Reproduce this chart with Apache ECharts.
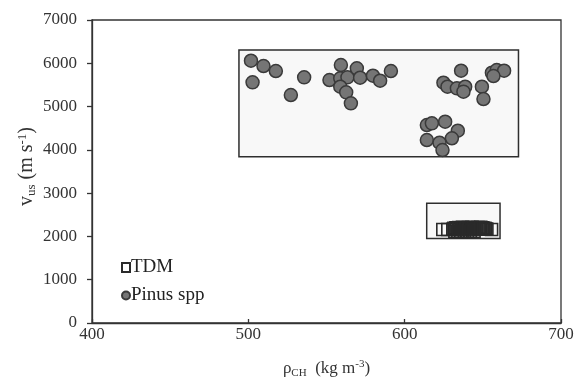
<!DOCTYPE html>
<html>
<head>
<meta charset="utf-8">
<script src="https://cdn.jsdelivr.net/npm/echarts@6/dist/echarts.min.js"></script>
<style>
  html, body { margin: 0; padding: 0; background: #fff; }
  #chart { width: 582px; height: 379px; }
</style>
</head>
<body>
<div id="chart"></div>
<script>
// Pinus spp 样本 (rho, v)
const pinusX = [501.7, 509.7, 517.6, 502.7, 535.7, 527.2, 551.9, 559.2, 558.8, 563.4, 569.4, 571.5, 558.8, 562.6, 565.6, 579.7, 584.3, 591.2,
  636.1, 624.8, 627.4, 633.4, 638.7, 637.6, 649.4, 650.4, 655.8, 658.9, 663.6, 656.8,
  614.2, 617.4, 625.9, 634.0, 630.2, 614.2, 622.3, 624.2];
const pinusY = [6059, 5937, 5821, 5560, 5676, 5267, 5613, 5960, 5652, 5676, 5883, 5667, 5459, 5329, 5075, 5713, 5597, 5821,
  5828, 5551, 5459, 5421, 5459, 5344, 5459, 5174, 5782, 5844, 5828, 5706,
  4574, 4613, 4650, 4442, 4267, 4227, 4165, 3996];

// TDM 样本
const tdmX = [624.4, 627.6, 630.8, 631.5, 632.1, 632.8, 633.4, 634.0, 634.6, 635.3, 635.9, 636.4, 637.0, 637.7, 638.2, 638.9,
  639.5, 640.1, 640.8, 641.3, 642.0, 642.6, 643.1, 643.8, 644.4, 645.0, 645.7, 646.2, 646.9, 647.5, 648.1, 648.7,
  649.4, 650.0, 650.6, 651.3, 651.9, 652.6, 655.6];
const tdmY = [2160, 2160, 2165, 2190, 2120, 2200, 2175, 2110, 2205, 2180, 2115, 2195, 2210, 2170, 2120, 2200,
  2185, 2115, 2205, 2175, 2110, 2195, 2210, 2180, 2120, 2200, 2170, 2190, 2205, 2175, 2195, 2210,
  2180, 2200, 2170, 2190, 2175, 2165, 2160];

// 分组框 [xmin, ymin, xmax, ymax]
const pinusBox = [494.0, 3842, 672.8, 6307];
const tdmBox = [614.1, 1950, 661.0, 2765];

const xTicks = [400, 700, 100];   // min, max, interval
const yTicks = [0, 7000, 1000];

const serif = '"Liberation Serif", "Times New Roman", serif';
const txt = '#333';
const xNameRich = {
  b: { fontFamily: serif, fontSize: 17, color: txt, lineHeight: 20 },
  sub: { fontFamily: serif, fontSize: 11, color: txt, verticalAlign: 'bottom', lineHeight: 15 },
  sup: { fontFamily: serif, fontSize: 11, color: txt, verticalAlign: 'top', lineHeight: 15 }
};
const yNameRich = {
  b: { fontFamily: serif, fontSize: 20, color: txt, lineHeight: 22 },
  sub: { fontFamily: serif, fontSize: 13, color: txt, verticalAlign: 'bottom', lineHeight: 17 },
  sup: { fontFamily: serif, fontSize: 13, color: txt, verticalAlign: 'top', lineHeight: 17 }
};

let myChart = echarts.init(document.getElementById('chart'));

let option = {
  animation: false,
  backgroundColor: '#fff',
  grid: {
    left: 92, right: 21, top: 20, bottom: 56,
    outerBoundsMode: 'none',
    show: true, borderColor: '#333', borderWidth: 1.3
  },
  legend: {
    orient: 'vertical',
    left: 116, top: 253,
    itemWidth: 8, itemHeight: 9,
    itemGap: 9,
    textStyle: { fontFamily: serif, fontSize: 19, color: '#222', lineHeight: 19, padding: [0, 0, 0, -4] },
    data: [{ name: 'TDM', icon: 'rect' }, { name: 'Pinus spp', icon: 'circle' }]
  },
  xAxis: {
    type: 'value',
    min: xTicks[0], max: xTicks[1], interval: xTicks[2],
    name: '{b|ρ}{sub|CH}{b|  (kg m}{sup|-3}{b|)}',
    nameLocation: 'middle', nameGap: 36,
    nameTextStyle: { rich: xNameRich },
    axisLine: { lineStyle: { color: '#333', width: 1.3 } },
    axisTick: { inside: true, length: 4, lineStyle: { color: '#333', width: 1.3 } },
    axisLabel: { fontFamily: serif, fontSize: 17, color: txt, margin: 3 },
    splitLine: { show: false }
  },
  yAxis: {
    type: 'value',
    min: yTicks[0], max: yTicks[1], interval: yTicks[2],
    name: '{b|v}{sub|us}{b| (m s}{sup|-1}{b|)}',
    nameLocation: 'middle', nameGap: 54, nameRotate: 90,
    nameMoveOverlap: false,
    nameTextStyle: { rich: yNameRich, padding: [0, 0, 0, 10] },
    axisLine: { lineStyle: { color: '#333', width: 1.3 } },
    axisTick: { inside: false, length: 5, lineStyle: { color: '#333', width: 1.3 } },
    axisLabel: { fontFamily: serif, fontSize: 17, color: txt, margin: 15, formatter: v => String(v) },
    splitLine: { show: false }
  },
  series: [
    {
      name: 'TDM',
      type: 'scatter',
      symbol: 'rect',
      symbolSize: 12,
      data: tdmX.map((x, i) => [x, tdmY[i]]),
      itemStyle: { color: 'rgba(255,255,255,0)', borderColor: '#2a2a2a', borderWidth: 1.6, opacity: 1 },
      markArea: {
        silent: true,
        itemStyle: { color: '#f8f8f8', borderColor: '#2e2e2e', borderWidth: 1.5 },
        data: [[{ coord: [tdmBox[0], tdmBox[1]] }, { coord: [tdmBox[2], tdmBox[3]] }]]
      },
      z: 3
    },
    {
      name: 'Pinus spp',
      type: 'scatter',
      symbol: 'circle',
      symbolSize: 13,
      data: pinusX.map((x, i) => [x, pinusY[i]]),
      itemStyle: { color: '#757575', borderColor: '#3a3a3a', borderWidth: 1.5, opacity: 1 },
      markArea: {
        silent: true,
        itemStyle: { color: '#f8f8f8', borderColor: '#2e2e2e', borderWidth: 1.5 },
        data: [[{ coord: [pinusBox[0], pinusBox[1]] }, { coord: [pinusBox[2], pinusBox[3]] }]]
      },
      z: 3
    }
  ]
};

myChart.setOption(option);
</script>
</body>
</html>
